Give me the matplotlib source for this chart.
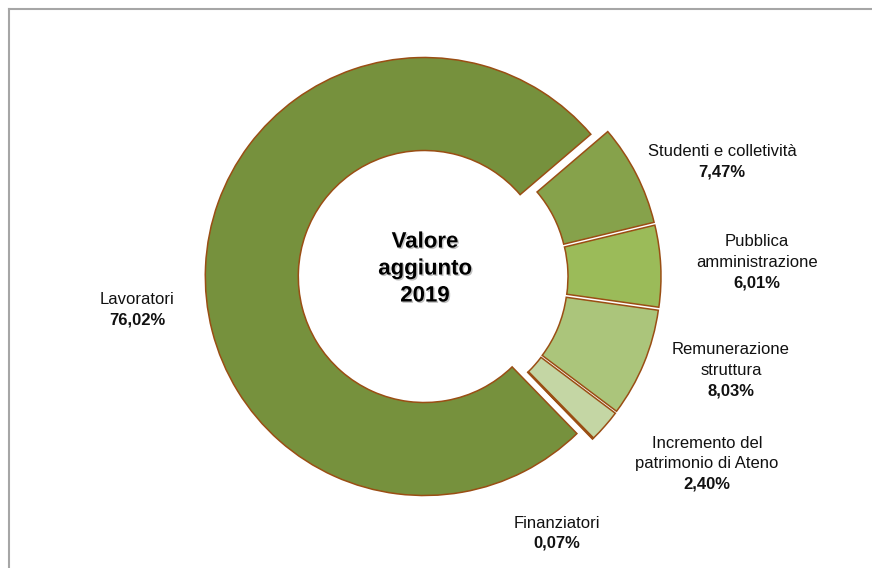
import matplotlib
matplotlib.use("Agg")
import matplotlib.pyplot as plt
import matplotlib.patheffects as pe

# data, clockwise from the upper right
labels = ["Studenti e colletività", "Pubblica\namministrazione",
          "Remunerazione\nstruttura", "Incremento del\npatrimonio di Ateno",
          "Finanziatori", "Lavoratori"]
values = [7.47, 6.01, 8.03, 2.40, 0.07, 76.02]
pct_text = ["7,47%", "6,01%", "8,03%", "2,40%", "0,07%", "76,02%"]
center_title = "Valore\naggiunto\n2019"

colors = ["#86A24B", "#9BBB59", "#ABC57B", "#C4D6A4", "#D7E4BD", "#76913D"]
edge = "#9A4E14"

# label anchors in pixels (x, y of first line, from top)
label_pos = [(722, 152), (757, 242), (731, 350), (707, 443), (557, 523), (137, 300)]

W, H = 872, 568
plt.rcParams['font.family'] = ['Liberation Sans', 'DejaVu Sans']

fig = plt.figure(figsize=(W / 100, H / 100), dpi=100)
ax = fig.add_axes([0, 0, 1, 1])

cx, cy = 435, H - 277
R, r = 219, 126
explode = [7, 7, 7, 7, 7, 10.7]

ax.pie(values, colors=colors, startangle=40.5, counterclock=False,
       radius=R, center=(cx, cy), explode=explode, frame=True,
       wedgeprops=dict(width=R - r, edgecolor=edge, linewidth=1.1))

ax.set_xlim(0, W)
ax.set_ylim(0, H)
ax.set_aspect('equal')
ax.axis('off')

for lab, pct, (x, y) in zip(labels, pct_text, label_pos):
    lines = lab.split("\n")
    for i, ln in enumerate(lines):
        ax.text(x, H - (y + 20.3 * i), ln, ha='center', va='center',
                fontsize=12, color='#111111')
    ax.text(x, H - (y + 20.3 * len(lines)), pct, ha='center', va='center',
            fontsize=12, fontweight='bold', color='#111111')

shadow = [pe.withSimplePatchShadow(offset=(1, -1), shadow_rgbFace='#999999', alpha=0.6)]
for i, ln in enumerate(center_title.split("\n")):
    ax.text(425, H - (242 + 27 * i), ln, ha='center', va='center',
            fontsize=16, fontweight='bold', color='black', path_effects=shadow)

# chart frame (only top and left edges fall inside the image)
ax.plot([9, 9], [0, H - 9], color='#A6A6A6', lw=1.5, clip_on=False)
ax.plot([9, W + 5], [H - 9, H - 9], color='#A6A6A6', lw=1.5, clip_on=False)

fig.savefig("out.png", dpi=100)
